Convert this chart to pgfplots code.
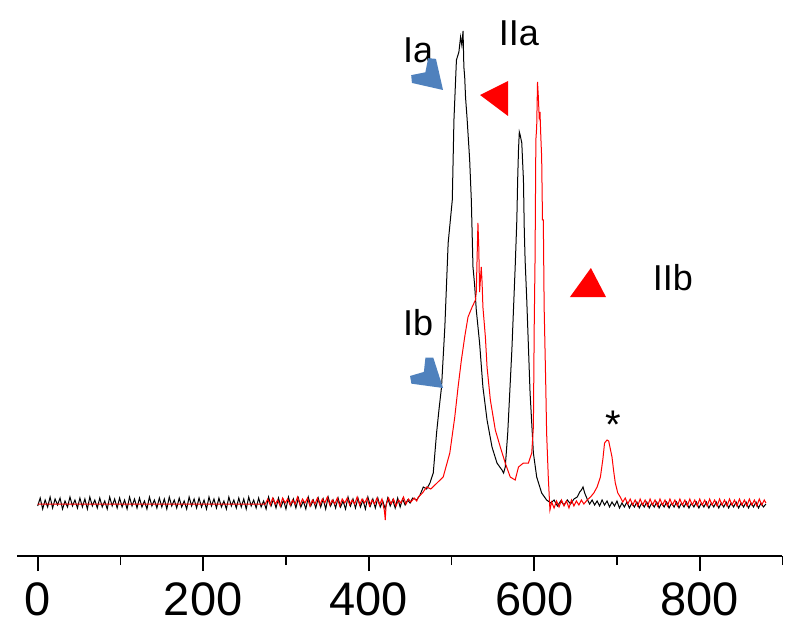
\documentclass[border=0pt]{standalone}
\usepackage{fontspec}
\setmainfont{Liberation Sans}
\usepackage{pgfplots}
\pgfplotsset{compat=1.18}
\definecolor{arrowblue}{RGB}{79,129,189}

\begin{document}
\begin{tikzpicture}
\begin{axis}[
    x=0.8275pt, y=1pt,
    xmin=-25, xmax=900, ymin=-49, ymax=507,
    axis x line*=bottom,
    hide y axis,
    axis line style={line width=1.8pt},
    xtick={0,200,400,600,800},
    minor xtick={100,300,500,700,900},
    tick align=outside,
    major tick length=15pt,
    minor tick length=9pt,
    tick style={line width=1.8pt, black},
    minor tick style={line width=1.8pt, black},
    ticklabel style={font=\fontsize{47}{50}\selectfont, yshift=-8pt},
    /pgf/number format/assume math mode=true,
    clip=false,
]

% black spectrum
\addplot[black, line width=1pt] coordinates {
    (0,1)(3,9)(6,-2)(9,7)(12,0)(15,10)(18,-1)(21,8)(24,2)(27,9)
    (30,-2)(33,6)(36,0)(39,10)(42,1)(45,7)(48,-1)(51,9)(54,0)(57,8)
    (60,-2)(63,10)(66,1)(69,7)(72,-1)(75,9)(78,0)(81,6)(84,-2)(87,10)
    (90,1)(93,8)(96,-1)(99,9)(102,0)(105,7)(108,-2)(111,10)(114,1)(117,8)
    (120,-1)(123,9)(126,0)(129,6)(132,-2)(135,10)(138,1)(141,7)(144,-1)(147,9)
    (150,0)(153,8)(156,-2)(159,10)(162,1)(165,7)(168,-1)(171,9)(174,0)(177,6)
    (180,-2)(183,10)(186,1)(189,8)(192,-1)(195,9)(198,0)(201,7)(204,-2)(207,10)
    (210,1)(213,8)(216,-1)(219,9)(222,0)(225,6)(228,-2)(231,10)(234,1)(237,7)
    (240,-1)(243,9)(246,0)(249,8)(252,-2)(255,10)(258,1)(261,7)(264,-1)(267,9)
    (270,0)(273,6)(276,-2)(279,10)(282,1)(285,8)(288,-1)(291,9)(294,0)(297,7)
    (300,-2)(303,10)(306,1)(309,8)(312,-1)(315,9)(318,0)(321,6)(324,-2)(327,10)
    (330,1)(333,7)(336,-1)(339,9)(342,0)(345,8)(348,-2)(351,10)(354,1)(357,7)
    (360,-1)(363,9)(366,0)(369,6)(372,-2)(375,10)(378,1)(381,8)(384,-1)(387,9)
    (390,0)(393,7)(396,-2)(399,10)(402,1)(405,8)(408,-1)(411,9)(414,0)(417,6)
    (420,-2)(423,9)(426,1)(429,7)(432,-1)(435,9)(438,0)(441,8)(444,2)(447,7)
    (450,4)(453,9)(458,7)(462,12)(466,20)(470,18)(474,24)(478,34)(482,74)(485,98)
    (488,120)(492,180)(496,264)(501,307)(503,387)(506,447)(509,455)(511,470)(512.5,462)(514,476)
    (515,440)(516,430)(517,410)(519,387)(522,347)(524,307)(526,240)(528,222)(530,197)(534,164)
    (538,120)(543,87)(549,60)(555,44)(561,37)(563,34)(565,40)(568,74)(573,157)(577,240)
    (579,287)(580,327)(581,357)(582,375)(583,372)(585,364)(586,345)(587,327)(588,277)(589,247)
    (591,207)(595,114)(599,54)(603,30)(609,14)(615,7)
    (620,4)(624,7)(628,1)(632,6)(636,2)(640,7)(644,3)(648,8)(652,10)(655,15)
    (657,17)(659,20)(661,14)(664,8)(667,3)(670,7)(673,2)(676,6)(679,1)(682,7)
    (685,2)(688,6)(691,0)(694,5)(697,1)(700,6)(703,-1)(706,4)(709,0)(712,5)
    (715,-1)(718,4)(721,0)(724,5)(727,-1)(730,4)(733,0)(736,5)(739,-1)(742,4)
    (745,0)(748,5)(751,-1)(754,4)(757,0)(760,5)(763,-1)(766,4)(769,0)(772,5)
    (775,-1)(778,4)(781,0)(784,5)(787,-1)(790,4)(793,0)(796,5)(799,-1)(802,4)
    (805,0)(808,5)(811,-1)(814,4)(817,0)(820,5)(823,-1)(826,4)(829,0)(832,5)
    (835,-1)(838,4)(841,0)(844,5)(847,-1)(850,4)(853,0)(856,5)(859,-1)(862,4)
    (865,0)(868,5)(871,-1)(874,4)(877,0)(880,3)
};

% red spectrum
\addplot[red, line width=1pt] coordinates {
    (0,3)(275,3)
    (278,8)(281,2)(284,9)(287,3)(290,7)(293,1)(296,9)(299,4)(302,8)
    (305,2)(308,7)(311,3)(314,10)(317,2)(320,8)(323,4)(326,9)(329,1)(332,7)
    (335,3)(338,9)(341,2)(344,8)(347,4)(350,10)(353,2)(356,7)(359,3)(362,9)
    (365,1)(368,8)(371,4)(374,9)(377,2)(380,7)(383,3)(386,10)(389,2)(392,8)
    (395,4)(398,9)(401,1)(404,7)(407,3)(410,9)(413,2)(416,8)(419,-4)(420,-13)
    (421,2)(424,9)(427,3)(430,8)(433,1)(436,7)(439,4)(442,10)(445,3)(448,8)
    (451,5)(455,9)(458,6)
    (460,10)(465,14)(470,20)(475,18)(480,22)(485,26)(490,30)(494,42)(498,54)(501,72)
    (504,90)(508,120)(512,147)(516,170)(520,190)(525,200)(529,207)(530,215)(531,250)(532,284)
    (533,260)(534,215)(536,240)(537,225)(538,200)(541,170)(543,140)(547,107)(553,77)(559,60)
    (565,44)(571,30)(577,27)(581,40)(587,44)(593,44)(597,54)(599,80)(600,180)(601,247)
    (602,367)(603,380)(604,425)(605,410)(606,390)(607,395)(608,370)(609,350)(610,287)(611,287)
    (612,200)(614,120)(615,74)(617,30)(619,-3)
    (621,5)(624,-1)(627,6)(630,0)(633,7)(636,1)(639,6)(642,-1)(645,7)(648,1)
    (651,6)(654,2)(657,7)(660,3)(664,7)(668,10)(672,14)(676,20)(680,30)(683,48)
    (685,64)(688,67)(690,66)(692,58)(694,50)(696,36)(698,24)(701,14)(704,10)(707,5)
    (710,9)(713,3)(716,8)(719,2)(722,7)(725,1)(728,8)(731,2)(734,7)(737,1)
    (740,8)(743,2)(746,7)(749,1)(752,8)(755,2)(758,7)(761,1)(764,8)(767,2)
    (770,7)(773,1)(776,8)(779,2)(782,7)(785,1)(788,8)(791,2)(794,7)(797,1)
    (800,8)(803,2)(806,7)(809,1)(812,8)(815,2)(818,7)(821,1)(824,8)(827,2)
    (830,7)(833,1)(836,8)(839,2)(842,7)(845,1)(848,8)(851,2)(854,7)(857,1)
    (860,8)(863,2)(866,7)(869,1)(872,8)(875,2)(878,7)(880,4)
};

% labels and markers
\node[font=\fontsize{36}{40}\selectfont] at (axis cs:459.6,457) {Ia};
\node[font=\fontsize{36}{40}\selectfont] at (axis cs:581.6,474) {IIa};
\node[font=\fontsize{36}{40}\selectfont] at (axis cs:459.6,184) {Ib};
\node[font=\fontsize{36}{40}\selectfont] at (axis cs:767.7,229) {IIb};
\node[font=\fontsize{40}{44}\selectfont] at (axis cs:695.2,82) {*};
\fill[red] (axis cs:534.5,412) -- (axis cs:568.4,426) -- (axis cs:568.4,391) -- cycle;
\fill[red] (axis cs:668.5,239) -- (axis cs:643.2,210) -- (axis cs:686.7,210) -- cycle;
\coordinate (tipA) at (axis cs:489.8,417);
\coordinate (tipB) at (axis cs:489.8,119);
\path (axis cs:-45.56,-127) rectangle (axis cs:921.2,507);
\end{axis}
\fill[arrowblue, shift={(tipA)}, rotate=-45]
    (0,0) -- (-27pt,17pt) -- (-33pt,12pt) -- (-25pt,0pt) -- (-33pt,-12pt) -- (-27pt,-17pt) -- cycle;
\fill[arrowblue, shift={(tipB)}, rotate=-40]
    (0,0) -- (-27pt,17pt) -- (-33pt,12pt) -- (-25pt,0pt) -- (-33pt,-12pt) -- (-27pt,-17pt) -- cycle;
\end{tikzpicture}
\end{document}
